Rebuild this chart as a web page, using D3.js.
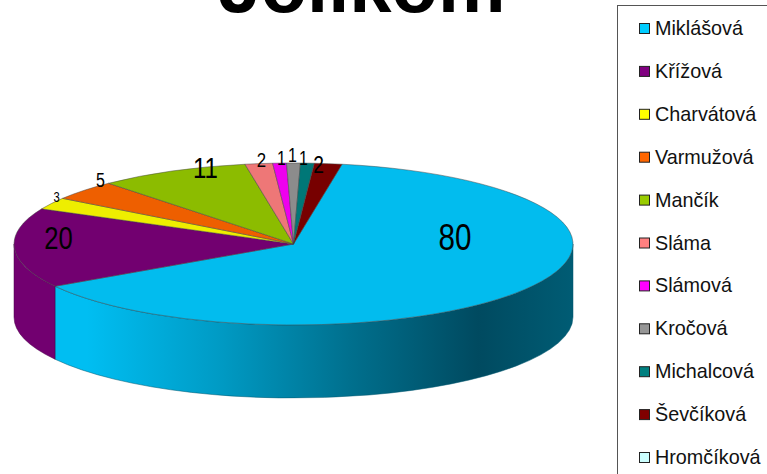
<!DOCTYPE html>
<html>
<head>
<meta charset="utf-8">
<script src="https://d3js.org/d3.v7.min.js"></script>
<style>
  html, body { margin: 0; padding: 0; background: #fff; overflow: hidden; }
  text { font-family: "Liberation Sans", Arial, sans-serif; }
</style>
</head>
<body>
<script>
// data
const names = ["Miklášová", "Křížová", "Charvátová", "Varmužová", "Mančík", "Sláma", "Slámová", "Kročová", "Michalcová", "Ševčíková", "Hromčíková"];
const values = [80, 20, 3, 5, 11, 2, 1, 1, 1, 2, 0];
const titleText = "Jolikom";

// colours
const legendColors = ["#00CCFF", "#800080", "#FFFF00", "#FF6600", "#99CC00", "#FF8080", "#FF00FF", "#969696", "#008080", "#800000", "#CCFFFF"];
const topColors = ["#02BCEE", "#720070", "#EEEE00", "#EE5F00", "#8CBC00", "#EE7777", "#EE00EE", "#8C8C8C", "#007777", "#770000", "#BBEEEE"];

// label layout: offset from pie centre, font size, x squeeze
const labelOffsets = [[161.5, -7], [-235, -6], [-237, -46], [-193, -64], [-88, -76], [-32, -84], [-12, -86], [-1, -89], [10, -86], [25, -79]];
const labelSizes = [37, 32, 14, 20, 30, 21, 20, 20, 20, 24];

function init() {
    "use strict";

    const w = 767;
    const h = 474;
    const cx = 293.5;
    const cy = 244;
    const rx = 279.5;
    const ry = 81;
    const depth = 73;
    const squash = ry / rx;
    const firstAngle = 10 * Math.PI / 180;

    const svg = d3.select("body").append("svg")
        .attr("width", w)
        .attr("height", h)
        .style("display", "block");

    // wall gradient for the big slice, runs in the flattened group's space
    const grad = svg.append("defs").append("linearGradient")
        .attr("id", "wallBlue")
        .attr("gradientUnits", "userSpaceOnUse")
        .attr("x1", -rx).attr("x2", rx)
        .attr("y1", 0).attr("y2", 0);
    [[0, "#00BEF2"], [0.13, "#00BEF2"], [0.36, "#009CC6"], [0.6, "#00708E"], [0.83, "#004A60"], [1, "#005C74"]]
        .forEach(s => grad.append("stop").attr("offset", s[0]).attr("stop-color", s[1]));

    svg.append("text")
        .attr("x", 362)
        .attr("y", 11.5)
        .attr("text-anchor", "middle")
        .attr("font-size", 76)
        .attr("font-weight", "bold")
        .attr("fill", "#000")
        .text(titleText);

    const pie = d3.pie()
        .value(d => d)
        .sort(null)
        .startAngle(firstAngle)
        .endAngle(firstAngle + 2 * Math.PI);
    const slices = pie(values);

    // pie is drawn round, then flattened
    const g = svg.append("g")
        .attr("transform", `translate(${cx},${cy}) scale(1,${squash})`);

    const wallDepth = depth / squash;
    const front = slices.map(s => {
        // d3 angles are from 12 o'clock, the front half runs 90 to 270 deg
        const a0 = Math.max(s.startAngle, Math.PI / 2);
        const a1 = Math.min(s.endAngle, 3 * Math.PI / 2);
        return { i: s.index, a0, a1 };
    }).filter(s => s.a1 > s.a0);

    g.selectAll("path.wall")
        .data(front)
        .enter()
        .append("path")
        .attr("class", "wall")
        .attr("d", s => {
            const p = d3.path();
            const b0 = s.a0 - Math.PI / 2;
            const b1 = s.a1 - Math.PI / 2;
            p.arc(0, 0, rx, b0, b1);
            p.lineTo(rx * Math.cos(b1), rx * Math.sin(b1) + wallDepth);
            p.arc(0, wallDepth, rx, b1, b0, true);
            p.closePath();
            return p.toString();
        })
        .attr("fill", s => s.i === 0 ? "url(#wallBlue)" : topColors[s.i])
        .attr("stroke", s => s.i === 0 ? "#00566e" : "#4a004a")
        .attr("stroke-width", 0.5)
        .attr("vector-effect", "non-scaling-stroke");

    const arc = d3.arc().innerRadius(0).outerRadius(rx);
    g.selectAll("path.slice")
        .data(slices.filter(s => s.data > 0))
        .enter()
        .append("path")
        .attr("class", "slice")
        .attr("d", arc)
        .attr("fill", s => topColors[s.index])
        .attr("stroke", "#444")
        .attr("stroke-width", 0.6)
        .attr("stroke-opacity", 0.8)
        .attr("vector-effect", "non-scaling-stroke");

    // value labels, narrow like the original
    svg.selectAll("text.value")
        .data(values.filter(v => v > 0))
        .enter()
        .append("text")
        .attr("class", "value")
        .attr("transform", (d, i) => `translate(${cx + labelOffsets[i][0]},${cy + labelOffsets[i][1]}) scale(0.8,1)`)
        .attr("text-anchor", "middle")
        .attr("dominant-baseline", "central")
        .attr("font-size", (d, i) => labelSizes[i])
        .attr("fill", "#000")
        .text(d => d);

    // legend
    svg.append("rect")
        .attr("x", 617.5)
        .attr("y", 5.5)
        .attr("width", 170)
        .attr("height", 490)
        .attr("fill", "#fff")
        .attr("stroke", "#555")
        .attr("stroke-width", 1);

    const legendY = d3.scalePoint().domain(names).range([28, 457]);
    const item = svg.selectAll("g.item")
        .data(names)
        .enter()
        .append("g")
        .attr("class", "item")
        .attr("transform", d => `translate(639,${legendY(d)})`);

    item.append("rect")
        .attr("x", 0.5)
        .attr("y", -4.5)
        .attr("width", 10)
        .attr("height", 10)
        .attr("fill", (d, i) => legendColors[i])
        .attr("stroke", "#222")
        .attr("stroke-width", 1);

    item.append("text")
        .attr("x", 16)
        .attr("y", 7)
        .attr("font-size", 19.8)
        .attr("fill", "#111")
        .text(d => d);
}

window.onload = init;
</script>
</body>
</html>
